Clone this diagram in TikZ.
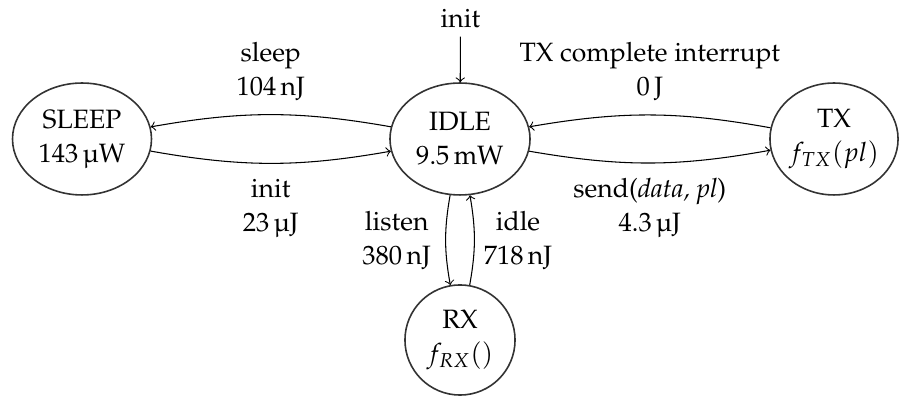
\documentclass[tikz,border=0pt]{standalone}
\usepackage[T1]{fontenc}
\usepackage{mathpazo}
\usetikzlibrary{shapes.geometric}
\begin{document}
\begin{tikzpicture}[x=0.377pt,y=-0.377pt,
  font=\fontsize{10}{12.8}\selectfont,
  state/.style={ellipse,draw=black!80,line width=0.6pt,minimum height=42.2pt,inner sep=0pt,align=center},
  lbl/.style={align=center},
  tr/.style={->,bend right=10}]
\useasboundingbox (0,0) rectangle (902,396);
\node[state,minimum width=52.4pt] (sleep) at (82,139) {SLEEP\\143\,\textmu W};
\node[state,minimum width=52.8pt] (idle) at (460,139) {IDLE\\9.5\,mW};
\node[state,minimum width=48.3pt] (tx) at (834,139) {TX\\$f_{TX}(pl)$};
\node[state,circle,minimum size=41.5pt] (rx) at (460,340) {RX\\$f_{RX}()$};
\node (init0) at (460.5,18) {init};
\draw[->] (init0) -- (idle);
\draw[tr] (idle) to node[lbl,above=2pt] {sleep\\104\,nJ} (sleep);
\draw[tr] (sleep) to node[lbl,below=2.3pt] {init\\23\,\textmu J} (idle);
\draw[tr] (tx) to node[lbl,above=2pt] {TX complete interrupt\\0\,J} (idle);
\draw[tr] (idle) to node[lbl,below=2.3pt] {send(\textit{data, pl})\\4.3\,\textmu J} (tx);
\draw[tr] (idle) to node[lbl,left=2pt] {listen\\380\,nJ} (rx);
\draw[tr] (rx) to node[lbl,right=0pt] {idle\\718\,nJ} (idle);
\end{tikzpicture}
\end{document}
